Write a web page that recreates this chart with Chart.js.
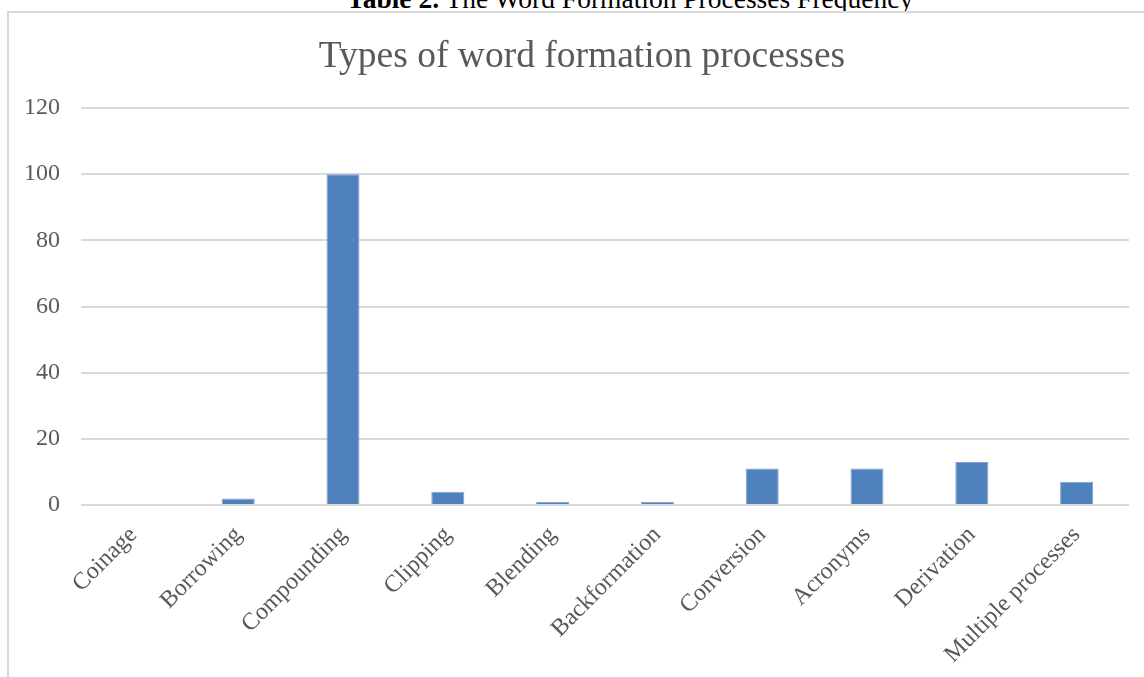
<!DOCTYPE html>
<html>
<head>
<meta charset="utf-8">
<script src="https://cdn.jsdelivr.net/npm/chart.js@4.4.1/dist/chart.umd.min.js"></script>
<style>
    html, body { margin: 0; padding: 0; background: #fff; overflow: hidden; width: 1144px; height: 677px; }
    #caption {
        position: absolute; left: 0; width: 1260px; top: -17px;
        text-align: center; font: 27.5px "Liberation Serif", "Times New Roman", serif; color: #000;
        white-space: nowrap;
    }
    #frame {
        position: absolute; left: 7px; top: 11px; width: 1160px; height: 700px;
        border: 2px solid #d9d9d9; box-sizing: border-box; background: #fff;
    }
    /* canvas a bit wider than the window so the title centres like the original */
    #wrap { position: absolute; left: 0; top: 0; width: 1171px; height: 677px; }
</style>
</head>
<body>
<div id="caption"><b>Table 2.</b> The Word Formation Processes Frequency</div>
<div id="frame"></div>
<div id="wrap"><canvas id="chart"></canvas></div>
<script>
// Chart data
const categories = ['Coinage', 'Borrowing', 'Compounding', 'Clipping', 'Blending',
    'Backformation', 'Conversion', 'Acronyms', 'Derivation', 'Multiple processes'];
const counts = [0, 2, 100, 4, 1, 1, 11, 11, 13, 7];
const yTicks = [0, 20, 40, 60, 80, 100, 120];

const serif = '"Liberation Serif", "Times New Roman", serif';
const grey = '#595959';

const ctx = document.getElementById('chart').getContext('2d');
new Chart(ctx, {
    type: 'bar',
    data: {
        labels: categories,
        datasets: [{
            data: counts,
            backgroundColor: '#4f81bd',
            borderColor: '#7ea2cf',
            borderWidth: 1,
            barPercentage: 0.315,
            categoryPercentage: 1
        }]
    },
    options: {
        responsive: true,
        maintainAspectRatio: false,
        animation: false,
        layout: { padding: { left: 8, right: 15, top: 0, bottom: 0 } },
        plugins: {
            legend: { display: false },
            tooltip: { enabled: false },
            title: {
                display: true,
                text: 'Types of word formation processes',
                color: grey,
                font: { family: serif, size: 37.5, weight: 'normal' },
                padding: { top: 35, bottom: 28 }
            }
        },
        scales: {
            x: {
                grid: { display: false },
                border: { display: false },
                ticks: {
                    color: grey,
                    font: { family: serif, size: 24 },
                    minRotation: 45,
                    maxRotation: 45,
                    autoSkip: false,
                    padding: 8
                },
                afterFit(scale) { scale.height = 172; }
            },
            y: {
                min: 0,
                max: 120,
                afterBuildTicks(scale) { scale.ticks = yTicks.map(v => ({ value: v })); },
                grid: { color: '#d9d9d9', lineWidth: 2, drawTicks: false },
                border: { display: false },
                ticks: {
                    color: grey,
                    font: { family: serif, size: 24 },
                    padding: 21
                },
                afterFit(scale) { scale.width = 73; }
            },
            // empty spacer on the right, keeps the plot edge at the window edge
            spacer: {
                type: 'linear',
                position: 'right',
                grid: { display: false },
                border: { display: false },
                ticks: { display: false },
                afterFit(scale) { scale.width = 27; }
            }
        }
    }
});
</script>
</body>
</html>
